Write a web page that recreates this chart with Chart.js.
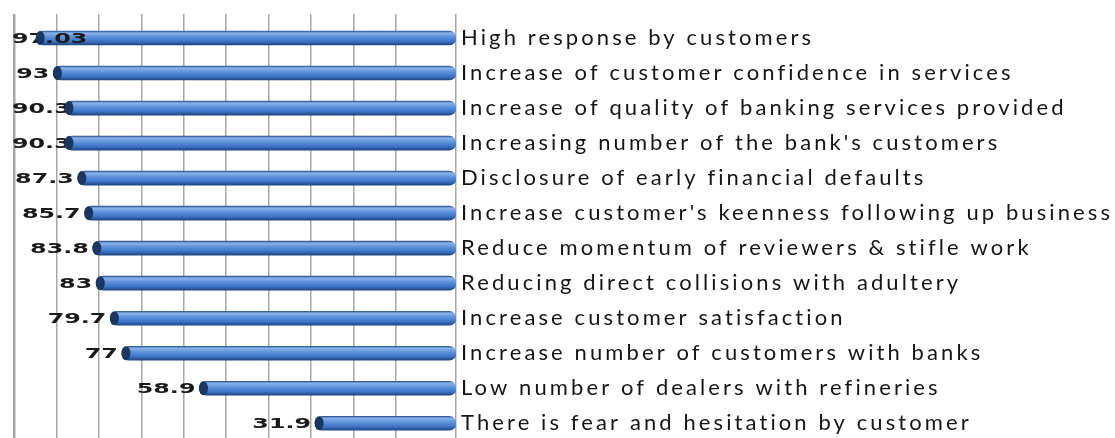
<!DOCTYPE html>
<html>
<head>
<meta charset="utf-8">
<script src="https://cdn.jsdelivr.net/npm/chart.js@4.4.1/dist/chart.umd.min.js"></script>
<style>
  html, body { margin: 0; padding: 0; background: #ffffff; overflow: hidden; }
  #wrap { position: absolute; left: 0; top: 0; width: 1115px; height: 459px; }
</style>
</head>
<body>
<div id="wrap"><canvas id="c"></canvas></div>
<script>
const categories = [
  "High response by customers",
  "Increase of customer confidence in services",
  "Increase of quality of banking services provided",
  "Increasing number of the bank's customers",
  "Disclosure of early financial defaults",
  "Increase customer's keenness following up business",
  "Reduce momentum of reviewers & stifle work",
  "Reducing direct collisions with adultery",
  "Increase customer satisfaction",
  "Increase number of customers with banks",
  "Low number of dealers with refineries",
  "There is fear and hesitation by customer"
];
const values = [97.03, 93, 90.3, 90.3, 87.3, 85.7, 83.8, 83, 79.7, 77, 58.9, 31.9];
const valueLabels = ["97.03", "93", "90.3", "90.3", "87.3", "85.7", "83.8", "83", "79.7", "77", "58.9", "31.9"];

const BAR_H = 14;
const LABEL_SPACING = '3.1px';

function barGradient(context) {
  const chart = context.chart;
  if (!chart.chartArea || context.dataIndex === undefined) return '#4f86d0';
  const y = chart.scales.y.getPixelForValue(context.dataIndex);
  const g = chart.ctx.createLinearGradient(0, y - BAR_H / 2, 0, y + BAR_H / 2);
  g.addColorStop(0, '#2d5590');
  g.addColorStop(0.14, '#8cb3ea');
  g.addColorStop(0.4, '#5f93dc');
  g.addColorStop(0.75, '#3c73c4');
  g.addColorStop(1, '#1f4580');
  return g;
}

const spacing = {
  id: 'spacing',
  beforeLayout(chart) { chart.ctx.letterSpacing = LABEL_SPACING; },
  beforeDraw(chart) { chart.ctx.letterSpacing = LABEL_SPACING; }
};

const capsAndLabels = {
  id: 'capsAndLabels',
  afterDatasetsDraw(chart) {
    const ctx = chart.ctx;
    const meta = chart.getDatasetMeta(0);
    const sx = 1.7;
    ctx.save();
    ctx.letterSpacing = '0px';
    ctx.font = 'bold 14px "DejaVu Sans"';
    ctx.fillStyle = '#1a1a1a';
    ctx.textBaseline = 'alphabetic';
    ctx.textAlign = 'left';
    meta.data.forEach((el, i) => {
      const t = valueLabels[i];
      const w = ctx.measureText(t).width * sx;
      const left = Math.max(12, el.x - 4 - w);
      ctx.save();
      ctx.translate(left, el.y + 5);
      ctx.scale(sx, 1);
      ctx.fillText(t, 0, 0);
      ctx.restore();
    });
    meta.data.forEach((el) => {
      ctx.beginPath();
      ctx.ellipse(el.x + 4, el.y, 4.5, BAR_H / 2, 0, 0, Math.PI * 2);
      ctx.fillStyle = '#1b3660';
      ctx.fill();
    });
    ctx.restore();
  }
};

new Chart(document.getElementById('c'), {
  type: 'bar',
  data: {
    labels: categories,
    datasets: [{
      data: values,
      base: -1,
      backgroundColor: barGradient,
      borderWidth: 0,
      borderRadius: 7,
      borderSkipped: false,
      barThickness: BAR_H
    }]
  },
  options: {
    indexAxis: 'y',
    responsive: true,
    maintainAspectRatio: false,
    animation: false,
    layout: { padding: { left: 14, right: 0, top: 14, bottom: 0 } },
    plugins: { legend: { display: false }, tooltip: { enabled: false } },
    scales: {
      x: {
        display: false,
        reverse: true,
        min: -1,
        max: 102.2
      },
      x2: {
        type: 'linear',
        position: 'top',
        min: 0,
        max: 10.42,
        ticks: { display: false, stepSize: 1 },
        border: { display: false },
        grid: {
          color: '#a8a8a8',
          lineWidth: (c) => (c.tick && c.tick.value === 0 ? 2.5 : 1.5),
          drawTicks: true,
          tickLength: 6.5
        }
      },
      y: {
        type: 'category',
        position: 'right',
        offset: true,
        grid: { display: false, drawTicks: false },
        border: { display: false },
        ticks: {
          padding: 5,
          color: '#161616',
          font: { family: 'Lato', size: 22 }
        },
        afterFit(scale) { scale.width = 659; }
      }
    }
  },
  plugins: [spacing, capsAndLabels]
});
</script>
</body>
</html>
